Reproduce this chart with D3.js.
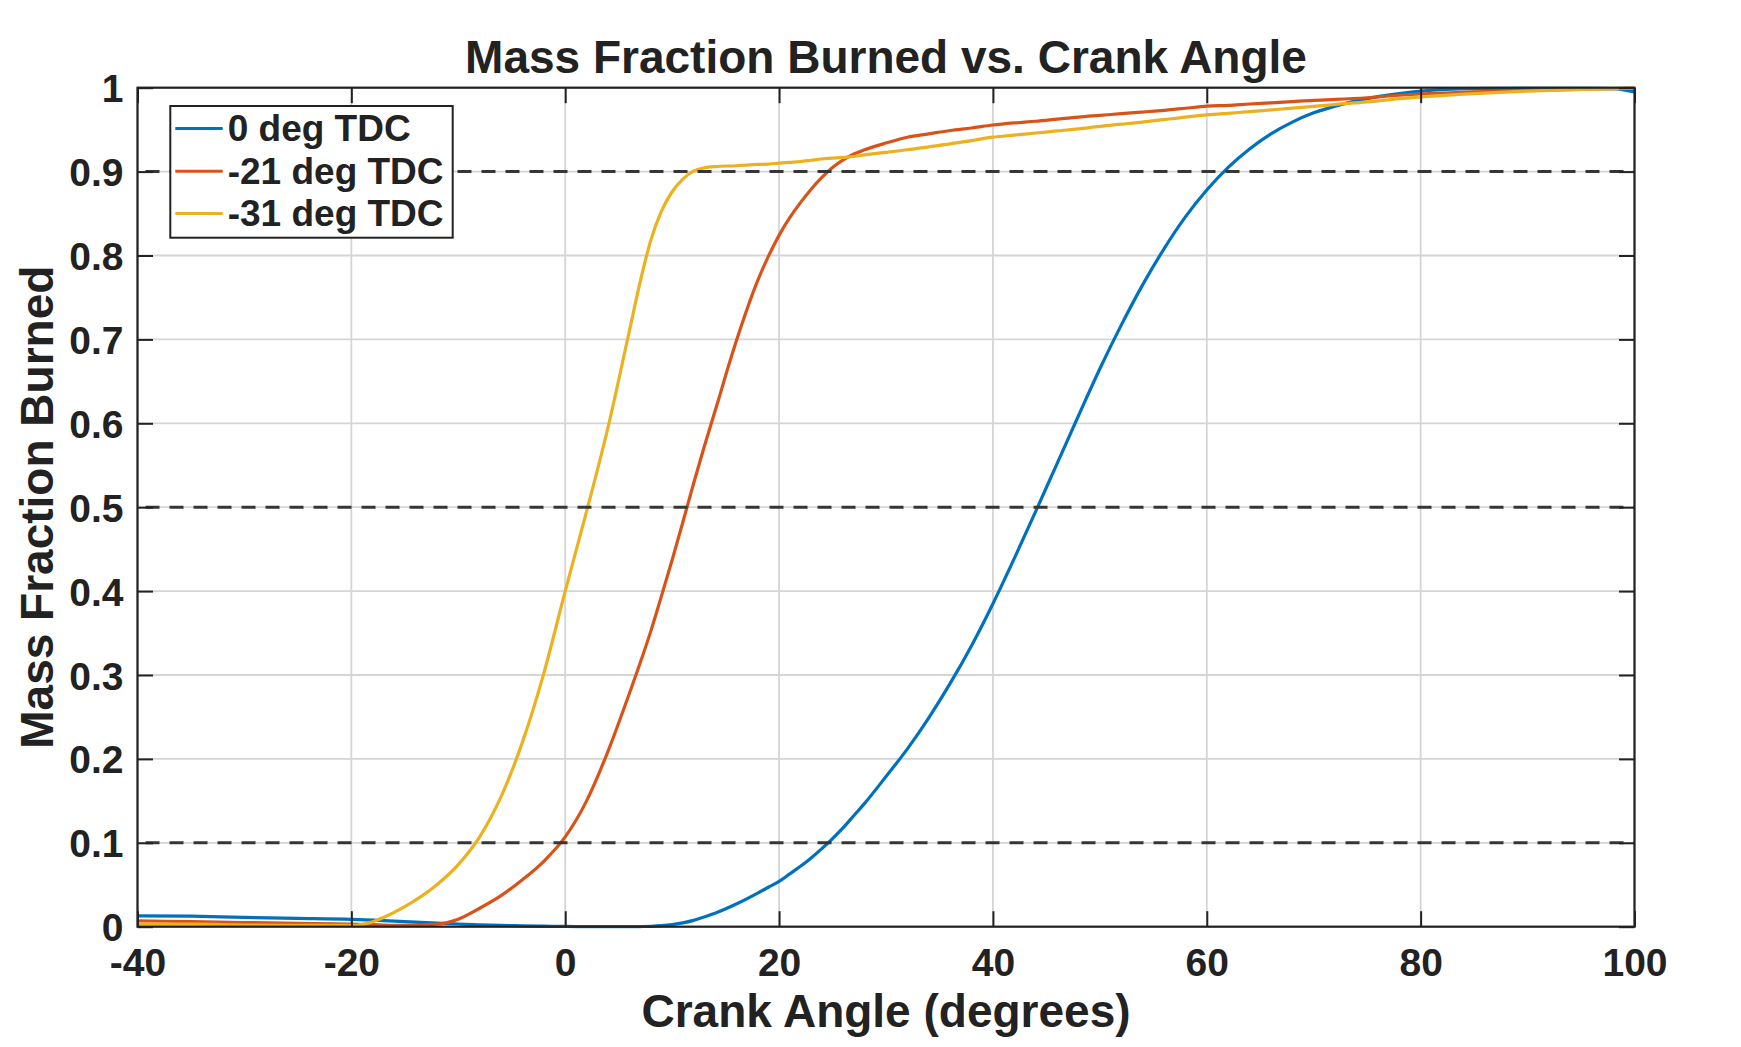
<!DOCTYPE html>
<html>
<head>
<meta charset="utf-8">
<script src="https://cdn.jsdelivr.net/npm/d3@7"></script>
<style>
  html, body { margin: 0; padding: 0; background: #ffffff; }
  svg { display: block; }
  text { font-family: "Liberation Sans", Arial, Helvetica, sans-serif; font-weight: bold; fill: #222222; }
</style>
</head>
<body>
<svg id="chart" width="1741" height="1047"></svg>
<script>
// ---------------- data ----------------
const crankAngle = [-40, -35, -30, -25, -20, -18, -17, -15, -12, -10, -8, -6, -4, -2, 0, 2, 4, 6, 7, 8, 9, 10, 11, 12, 13, 14, 16, 18, 19, 20, 21, 22, 23, 24, 25, 26, 27, 28, 30, 32, 34, 36, 38, 40, 42, 44, 46, 48, 50, 52, 54, 56, 58, 60, 62, 64, 66, 68, 70, 72, 75, 78, 80, 85, 90, 95, 98, 100];

const mfb0deg = [0.013, 0.0125, 0.011, 0.010, 0.0088, 0.0078, 0.0072, 0.006, 0.0042, 0.0032, 0.0022, 0.0015, 0.001, 0.0006, 0.0003, 0.0001, 0.0, 0.0, 0.0002, 0.0005, 0.0012, 0.0025, 0.0045, 0.0075, 0.0115, 0.016, 0.027, 0.040, 0.047, 0.054, 0.063, 0.072, 0.082, 0.093, 0.105, 0.118, 0.1325, 0.147, 0.179, 0.212, 0.249, 0.290, 0.335, 0.385, 0.439, 0.495, 0.552, 0.609, 0.665, 0.717, 0.765, 0.808, 0.846, 0.878, 0.905, 0.927, 0.945, 0.959, 0.970, 0.978, 0.987, 0.993, 0.996, 0.999, 0.9993, 0.9993, 0.999, 0.995];

const mfb21deg = [0.007, 0.006, 0.005, 0.004, 0.003, 0.0025, 0.002, 0.0015, 0.003, 0.009, 0.022, 0.037, 0.056, 0.078, 0.107, 0.150, 0.209, 0.278, 0.314, 0.352, 0.394, 0.437, 0.482, 0.528, 0.572, 0.614, 0.698, 0.770, 0.799, 0.824, 0.845, 0.863, 0.879, 0.893, 0.905, 0.914, 0.921, 0.926, 0.934, 0.941, 0.945, 0.949, 0.952, 0.9555, 0.958, 0.960, 0.9625, 0.965, 0.967, 0.969, 0.971, 0.973, 0.9755, 0.978, 0.979, 0.9806, 0.982, 0.9835, 0.985, 0.986, 0.988, 0.991, 0.9925, 0.995, 0.997, 0.998, 0.999, 0.9993];

const mfb31deg = [0.003, 0.003, 0.002, 0.0015, 0.0015, 0.006, 0.011, 0.024, 0.050, 0.074, 0.107, 0.155, 0.220, 0.302, 0.400, 0.495, 0.595, 0.710, 0.768, 0.818, 0.853, 0.876, 0.891, 0.9005, 0.9045, 0.906, 0.907, 0.9085, 0.909, 0.910, 0.911, 0.912, 0.9135, 0.915, 0.916, 0.917, 0.918, 0.920, 0.923, 0.926, 0.9295, 0.933, 0.937, 0.941, 0.9435, 0.946, 0.9485, 0.951, 0.954, 0.9565, 0.959, 0.962, 0.965, 0.9675, 0.9695, 0.9714, 0.9735, 0.9756, 0.9778, 0.980, 0.983, 0.987, 0.989, 0.993, 0.996, 0.998, 0.999, 0.9993];

const seriesNames = ["0 deg TDC", "-21 deg TDC", "-31 deg TDC"];
const seriesColors = ["#0072BD", "#D95319", "#EDB120"];
const xTicks = [-40, -20, 0, 20, 40, 60, 80, 100];
const yTicks = [0, 0.1, 0.2, 0.3, 0.4, 0.5, 0.6, 0.7, 0.8, 0.9, 1];
const refLevels = [0.1, 0.5, 0.9];

const titleText = "Mass Fraction Burned vs. Crank Angle";
const xLabelText = "Crank Angle (degrees)";
const yLabelText = "Mass Fraction Burned";

// ---------------- layout ----------------
const W = 1741, H = 1047;
const margin = { left: 137.5, top: 87.7, right: 106.5, bottom: 120.3 };
const pw = W - margin.left - margin.right;
const ph = H - margin.top - margin.bottom;

const svg = d3.select("#chart");
const g = svg.append("g").attr("transform", `translate(${margin.left},${margin.top})`);

const x = d3.scaleLinear().domain([-40, 100]).range([0, pw]);
const y = d3.scaleLinear().domain([0, 1]).range([ph, 0]);

// clip
svg.append("defs").append("clipPath").attr("id", "plotclip")
  .append("rect").attr("x", 0).attr("y", -2).attr("width", pw).attr("height", ph + 4);

// grid
const grid = g.append("g");
grid.selectAll("line.gx").data(xTicks).enter().append("line")
  .attr("x1", d => x(d)).attr("x2", d => x(d)).attr("y1", 0).attr("y2", ph)
  .attr("stroke", "#d5d5d5").attr("stroke-width", 1.8);
grid.selectAll("line.gy").data(yTicks).enter().append("line")
  .attr("x1", 0).attr("x2", pw).attr("y1", d => y(d)).attr("y2", d => y(d))
  .attr("stroke", "#d5d5d5").attr("stroke-width", 1.8);

// data lines
const seriesData = [mfb0deg, mfb21deg, mfb31deg];
const line = d3.line()
  .x((d, i) => x(crankAngle[i]))
  .y(d => y(d))
  .curve(d3.curveMonotoneX);

const lines = g.append("g").attr("clip-path", "url(#plotclip)");
seriesData.forEach((vals, k) => {
  lines.append("path")
    .datum(vals)
    .attr("d", line)
    .attr("fill", "none")
    .attr("stroke", seriesColors[k])
    .attr("stroke-width", 3.2)
    .attr("stroke-linejoin", "round");
});

// reference dashed lines
g.append("g").selectAll("line").data(refLevels).enter().append("line")
  .attr("x1", 0).attr("x2", pw).attr("y1", d => y(d)).attr("y2", d => y(d))
  .attr("stroke", "#363636").attr("stroke-width", 3)
  .attr("stroke-dasharray", "14,10").attr("stroke-dashoffset", -8);

// axes (inward ticks on all four sides)
const tickLen = 15.5;
const fmtY = d => (d === 0 ? "0" : d === 1 ? "1" : d3.format(".1f")(d));
const fmtX = d => String(d);

const xAxisB = g.append("g").attr("transform", `translate(0,${ph})`)
  .call(d3.axisBottom(x).tickValues(xTicks).tickSizeInner(-tickLen).tickSizeOuter(0).tickFormat(fmtX));
const xAxisT = g.append("g")
  .call(d3.axisTop(x).tickValues(xTicks).tickSizeInner(-tickLen).tickSizeOuter(0).tickFormat(""));
const yAxisL = g.append("g")
  .call(d3.axisLeft(y).tickValues(yTicks).tickSizeInner(-tickLen).tickSizeOuter(0).tickFormat(fmtY));
const yAxisR = g.append("g").attr("transform", `translate(${pw},0)`)
  .call(d3.axisRight(y).tickValues(yTicks).tickSizeInner(-tickLen).tickSizeOuter(0).tickFormat(""));

[xAxisB, xAxisT, yAxisL, yAxisR].forEach(a => {
  a.select(".domain").remove();
  a.selectAll(".tick line").attr("stroke", "#222222").attr("stroke-width", 2);
});

xAxisB.selectAll(".tick text")
  .attr("y", 49.3).attr("dy", 0)
  .attr("font-size", 39).attr("fill", "#222222")
  .style("font-family", "'Liberation Sans', Arial, sans-serif").style("font-weight", "bold");
yAxisL.selectAll(".tick text")
  .attr("x", -14).attr("dy", "0.36em")
  .attr("font-size", 39).attr("fill", "#222222")
  .style("font-family", "'Liberation Sans', Arial, sans-serif").style("font-weight", "bold");

// box
g.append("rect").attr("x", 0).attr("y", 0).attr("width", pw).attr("height", ph)
  .attr("fill", "none").attr("stroke", "#222222").attr("stroke-width", 2.2);

// title and axis labels
svg.append("text").attr("x", margin.left + pw / 2).attr("y", 72.7)
  .attr("text-anchor", "middle").attr("font-size", 46).text(titleText);
svg.append("text").attr("x", margin.left + pw / 2).attr("y", 1027)
  .attr("text-anchor", "middle").attr("font-size", 46).text(xLabelText);
svg.append("text")
  .attr("transform", `translate(53,${margin.top + ph / 2}) rotate(-90)`)
  .attr("text-anchor", "middle").attr("font-size", 46).text(yLabelText);

// legend
const legend = svg.append("g").attr("transform", "translate(170.3,106)");
legend.append("rect").attr("x", 0).attr("y", 0).attr("width", 282.4).attr("height", 131.7)
  .attr("fill", "#ffffff").attr("stroke", "#222222").attr("stroke-width", 2);
const rowY = [22.5, 65.2, 107.5];
seriesNames.forEach((name, k) => {
  legend.append("line").attr("x1", 5).attr("x2", 52.4)
    .attr("y1", rowY[k]).attr("y2", rowY[k])
    .attr("stroke", seriesColors[k]).attr("stroke-width", 3);
  legend.append("text").attr("x", 57.4).attr("y", rowY[k] + 12.5)
    .attr("font-size", 37).text(name);
});
</script>
</body>
</html>
